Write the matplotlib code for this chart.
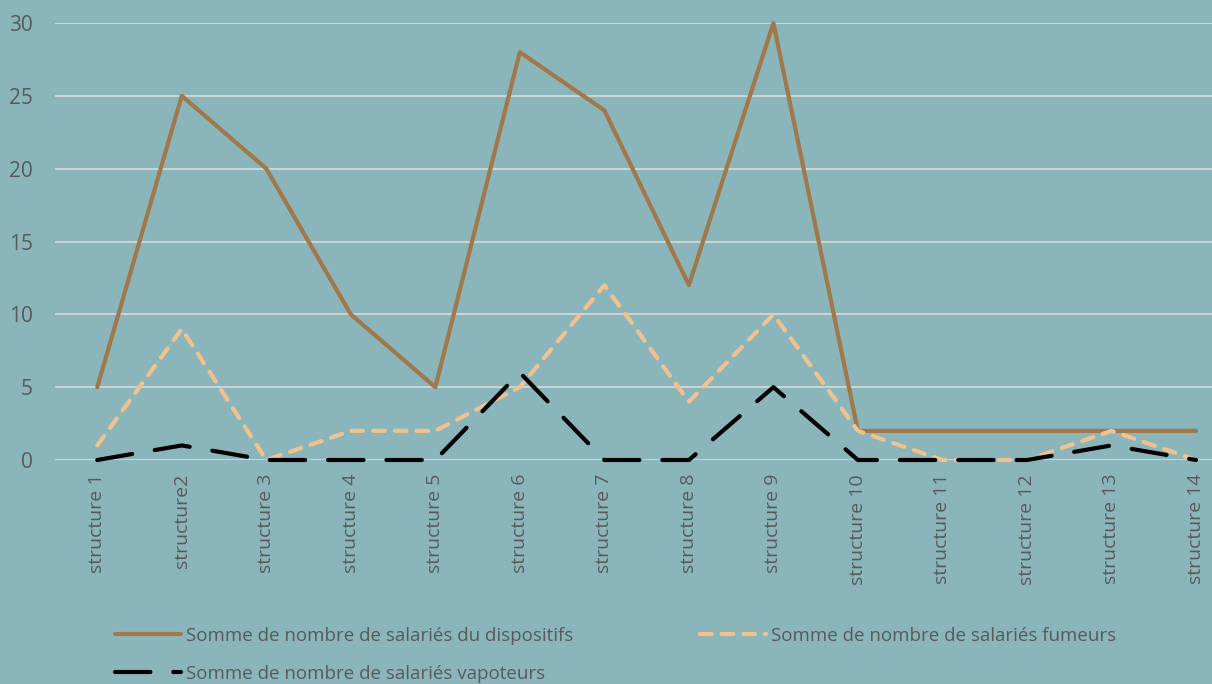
import numpy as np
import matplotlib.pyplot as plt

plt.rcParams['font.family'] = ['Open Sans', 'DejaVu Sans']

structures = ['structure 1', 'structure2', 'structure 3', 'structure 4', 'structure 5',
              'structure 6', 'structure 7', 'structure 8', 'structure 9', 'structure 10',
              'structure 11', 'structure 12', 'structure 13', 'structure 14']
dispositifs = [5, 25, 20, 10, 5, 28, 24, 12, 30, 2, 2, 2, 2, 2]
fumeurs = [1, 9, 0, 2, 2, 5, 12, 4, 10, 2, 0, 0, 2, 0]
vapoteurs = [0, 1, 0, 0, 0, 6, 0, 0, 5, 0, 0, 0, 1, 0]

bg = '#8AB6BB'
txt = '#595959'

fig = plt.figure(figsize=(12.12, 6.84), dpi=100, facecolor=bg)
ax = fig.add_axes([55 / 1212, 1 - 460 / 684, 1 - 55 / 1212, (460 - 23) / 684])
ax.set_facecolor(bg)

x = np.arange(len(structures))
l1, = ax.plot(x, dispositifs, color='#A0784A', lw=3, solid_capstyle='round',
              label='Somme de nombre de salariés du dispositifs')
l2, = ax.plot(x, fumeurs, color='#F2C28E', lw=3, dashes=(2.8, 2.4), dash_capstyle='round',
              label='Somme de nombre de salariés fumeurs')
l3, = ax.plot(x, vapoteurs, color='black', lw=3, dashes=(8.5, 5.5), dash_capstyle='round',
              label='Somme de nombre de salariés vapoteurs')

ax.set_xlim(-0.5, 13 + 16 / 84.5)
ax.set_ylim(0, 30)
ax.set_yticks(range(0, 31, 5))
ax.set_xticks(x)
ax.set_xticklabels(structures, rotation=90, color=txt, fontsize=14)
ax.tick_params(axis='y', colors=txt, labelsize=15, length=0, pad=16)
ax.tick_params(axis='x', length=0, pad=10)
ax.grid(axis='y', color='#D9D9D9', lw=1.2)
ax.set_axisbelow(True)
for s in ax.spines.values():
    s.set_visible(False)
for ln in ax.lines:
    ln.set_clip_on(False)

# row order: dispositifs, fumeurs / vapoteurs
leg = fig.legend([l1, l3, l2], [l1.get_label(), l3.get_label(), l2.get_label()],
                 loc='upper left', bbox_to_anchor=(115 / 1212, 1 - 627 / 684), ncol=2,
                 frameon=False, fontsize=13.5, handlelength=3.5, handletextpad=0.27,
                 columnspacing=6.8, labelspacing=1.05, borderaxespad=0, borderpad=0)
for t in leg.get_texts():
    t.set_color(txt)

fig.savefig('out.png', dpi=100, facecolor=bg)
